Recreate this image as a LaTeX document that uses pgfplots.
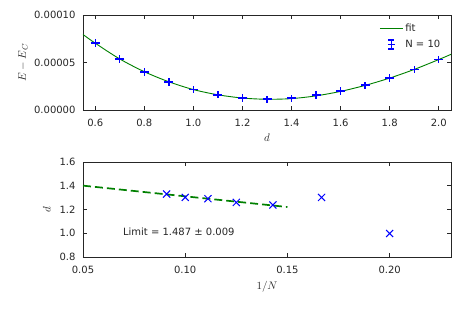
\documentclass[border=0pt]{standalone}
\usepackage{fontspec}
\setmainfont{DejaVu Sans}
\usepackage{pgfplots}
\pgfplotsset{compat=1.18}
\definecolor{mplgreen}{rgb}{0,0.5,0}
\definecolor{axcol}{gray}{0.15}
\begin{document}
\fontsize{10}{12}\selectfont
\begin{tikzpicture}
\useasboundingbox (-83pt,-199pt) rectangle (380pt,110pt);
\pgfplotsset{every axis/.append style={
  scale only axis, width=368pt, height=95pt,
  axis line style={axcol, line width=0.8pt},
  tick style={axcol, line width=0.6pt},
  major tick length=4pt,
  scaled ticks=false,
  /pgf/number format/assume math mode=true,
  yticklabel style={xshift=-4pt},
  xticklabel style={yshift=-5.5pt},
  ticklabel style={font=\fontsize{10}{12}\selectfont, text=axcol},
  label style={font=\fontsize{11}{13}\selectfont, text=axcol},
}}
\begin{axis}[
  at={(0pt,0pt)}, anchor=south west,
  xmin=0.55, xmax=2.05, ymin=0, ymax=0.0001,
  xtick={0.6,0.8,1.0,1.2,1.4,1.6,1.8,2.0},
  ytick={0,0.00005,0.0001},
  yticklabel style={/pgf/number format/fixed, /pgf/number format/fixed zerofill, /pgf/number format/precision=5},
  xticklabel style={/pgf/number format/fixed, /pgf/number format/fixed zerofill, /pgf/number format/precision=1},
  xlabel={$d$}, ylabel={$E-E_C$},
  x label style={at={(axis description cs:0.5,-0.295)}, anchor=center},
  y label style={at={(axis description cs:-0.163,0.5)}, anchor=center},
  legend style={draw=none, fill=none, at={(0.985,0.95)}, anchor=north east,
    font=\fontsize{10}{12}\selectfont, row sep=3pt, text=axcol},
  legend cell align=left,
]
\addplot[mplgreen, line width=0.9pt, smooth, no markers,
  legend image code/.code={\draw[mplgreen, line width=0.9pt] (-3pt,0pt) -- (20pt,0pt);}]
coordinates {
(0.55,7.95e-5) (0.6,7.03e-5) (0.7,5.37e-5) (0.8,4.03e-5) (0.9,2.97e-5)
(1.0,2.15e-5) (1.1,1.60e-5) (1.2,1.26e-5) (1.3,1.13e-5) (1.4,1.20e-5)
(1.5,1.49e-5) (1.6,1.96e-5) (1.7,2.59e-5) (1.8,3.36e-5) (1.9,4.27e-5)
(2.0,5.31e-5) (2.05,5.86e-5)
};
\addlegendentry{fit}
\addplot[color=blue, only marks, mark=-, mark size=4.5pt, mark options={blue, line width=1.8pt},
  legend image code/.code={
    \draw[blue, line width=1.1pt] (8.5pt,-4.5pt) -- (8.5pt,4.5pt);
    \draw[blue, line width=1.1pt] (5.5pt,4.5pt) -- (11.5pt,4.5pt);
    \draw[blue, line width=1.1pt] (5.5pt,-4.5pt) -- (11.5pt,-4.5pt);
    \draw[blue, line width=1.4pt] (5pt,0pt) -- (12pt,0pt);},
  error bars/.cd, y dir=both, y explicit, error mark=none,
  error bar style={blue, line width=1.3pt}]
table[x=x, y=y, y error=e] {
x y e
0.6 7.03e-5 4e-6
0.7 5.37e-5 4e-6
0.8 4.03e-5 4e-6
0.9 2.97e-5 4e-6
1.0 2.15e-5 4e-6
1.1 1.62e-5 4e-6
1.2 1.27e-5 4e-6
1.3 1.12e-5 4e-6
1.4 1.23e-5 4e-6
1.5 1.55e-5 4e-6
1.6 1.97e-5 4e-6
1.7 2.60e-5 4e-6
1.8 3.38e-5 4e-6
1.9 4.26e-5 4e-6
2.0 5.32e-5 4e-6
};
\addlegendentry{N = 10}
\end{axis}
\begin{axis}[
  at={(0pt,-147pt)}, anchor=south west,
  xmin=0.05, xmax=0.23, ymin=0.8, ymax=1.6,
  xtick={0.05,0.10,0.15,0.20},
  ytick={0.8,1.0,1.2,1.4,1.6},
  yticklabel style={/pgf/number format/fixed, /pgf/number format/fixed zerofill, /pgf/number format/precision=1},
  xticklabel style={/pgf/number format/fixed, /pgf/number format/fixed zerofill, /pgf/number format/precision=2},
  xlabel={$1/N$}, ylabel={$d$},
  x label style={at={(axis description cs:0.5,-0.316)}, anchor=center},
  y label style={at={(axis description cs:-0.098,0.5)}, anchor=center},
]
\addplot[mplgreen, line width=1.7pt, dash pattern=on 8pt off 4pt] coordinates {(0.05,1.401) (0.15,1.221)};
\addplot[blue, only marks, mark=x, mark size=5pt, mark options={blue, line width=1pt}] coordinates {
(0.0909,1.330) (0.1,1.302) (0.1111,1.291) (0.125,1.260) (0.1429,1.238) (0.1667,1.302) (0.2,0.998)
};
\node[anchor=west, font=\fontsize{10}{12}\selectfont, text=axcol, inner sep=0pt] at (axis cs:0.0695,1.016) {Limit = 1.487 ± 0.009};
\end{axis}
\end{tikzpicture}
\end{document}
